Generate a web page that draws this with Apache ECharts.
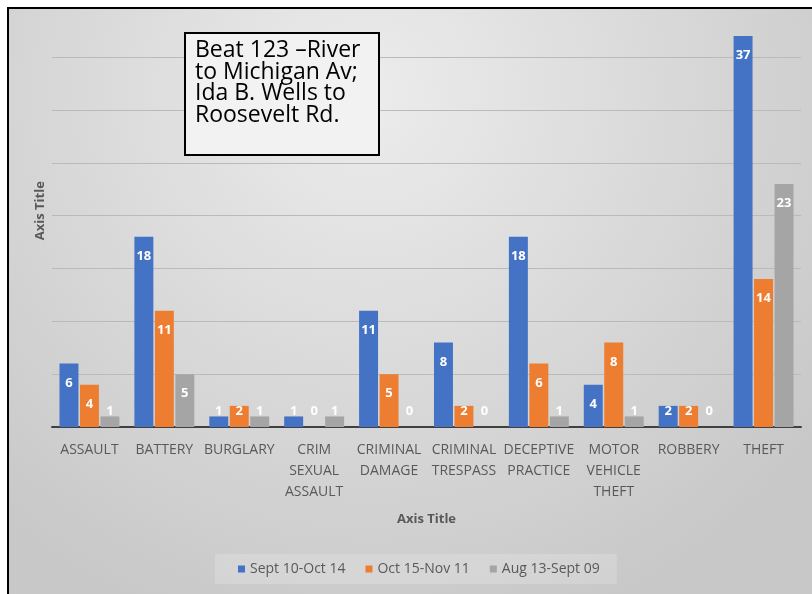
<!DOCTYPE html>
<html>
<head>
<meta charset="utf-8">
<script src="https://cdn.jsdelivr.net/npm/echarts@6/dist/echarts.min.js"></script>
<style>html,body{margin:0;padding:0;background:#fff}#c{width:812px;height:594px}</style>
</head>
<body>
<div id="c"></div>
<script>
const categories = ['ASSAULT','BATTERY','BURGLARY','CRIM\nSEXUAL\nASSAULT','CRIMINAL\nDAMAGE','CRIMINAL\nTRESPASS','DECEPTIVE\nPRACTICE','MOTOR\nVEHICLE\nTHEFT','ROBBERY','THEFT'];
const sept10Oct14 = [6, 18, 1, 1, 11, 8, 18, 4, 2, 37];
const oct15Nov11 = [4, 11, 2, 0, 5, 2, 6, 8, 2, 14];
const aug13Sept09 = [1, 5, 1, 1, 0, 0, 1, 1, 0, 23];
const seriesNames = ['Sept 10-Oct 14', 'Oct 15-Nov 11', 'Aug 13-Sept 09'];
const colors = ['#4472C4', '#ED7D31', '#A5A5A5'];
const noteLines = ['Beat 123 \u2013River', 'to Michigan Av;', 'Ida B. Wells to', 'Roosevelt Rd.'];

const FONT = "'Open Sans', 'Liberation Sans', sans-serif";
const chart = echarts.init(document.getElementById('c'));

function toData(arr) {
  return arr.map(v => v < 3.5
    ? { value: v, label: { position: 'insideBottom', distance: 9 } }
    : { value: v });
}

const series = [sept10Oct14, oct15Nov11, aug13Sept09].map((arr, i) => ({
  name: seriesNames[i],
  type: 'bar',
  barCategoryGap: '20%',
  barGap: '8%',
  itemStyle: { color: colors[i] },
  label: {
    show: true, position: 'insideTop', distance: 13,
    color: '#fff', fontWeight: 'bold', fontSize: 13, fontFamily: FONT
  },
  data: toData(arr)
}));

chart.setOption({
  backgroundColor: '#fff',
  animation: false,
  textStyle: { fontFamily: FONT },
  grid: { left: 52, right: 11, top: 4.43, bottom: 167, containLabel: false },
  xAxis: {
    type: 'category',
    data: categories,
    name: 'Axis Title',
    nameLocation: 'middle',
    nameGap: 86,
    nameTextStyle: { color: '#595959', fontWeight: 'bold', fontSize: 13, fontFamily: FONT },
    axisLine: { lineStyle: { color: '#404040', width: 2 } },
    axisTick: { show: false },
    axisLabel: { color: '#595959', fontSize: 14, lineHeight: 21, margin: 13, interval: 0, fontFamily: FONT }
  },
  yAxis: {
    type: 'value',
    min: 0, max: 40, interval: 5,
    name: 'Axis Title',
    nameLocation: 'middle',
    nameGap: 5,
    nameTextStyle: { color: '#595959', fontWeight: 'bold', fontSize: 13, fontFamily: FONT, padding: [0, 0, 0, 10] },
    axisLabel: { show: false },
    axisLine: { show: false },
    axisTick: { show: false },
    splitLine: { lineStyle: { color: '#bababa', width: 1 } }
  },
  legend: {
    data: seriesNames,
    left: 215,
    top: 554,
    padding: [8, 17, 8, 23],
    backgroundColor: 'rgba(255,255,255,0.18)',
    itemWidth: 7, itemHeight: 7, itemGap: 20,
    icon: 'rect',
    textStyle: { color: '#595959', fontSize: 14, fontFamily: FONT }
  },
  graphic: [
    {
      type: 'rect', z: -10, silent: true,
      shape: { x: 8, y: 8, width: 804, height: 586 },
      style: {
        fill: new echarts.graphic.RadialGradient(0.45, 0.15, 0.95, [
          { offset: 0, color: '#ececec' },
          { offset: 1, color: '#c8c8c8' }
        ])
      }
    },
    { type: 'rect', z: 100, silent: true, shape: { x: 0, y: 0, width: 812, height: 7 }, style: { fill: '#fff' } },
    { type: 'rect', z: 100, silent: true, shape: { x: 0, y: 0, width: 7, height: 594 }, style: { fill: '#fff' } },
    {
      type: 'polyline', z: 101, silent: true,
      shape: { points: [[8, 594], [8, 8], [812, 8]] },
      style: { stroke: '#000', lineWidth: 2, fill: null }
    },
    {
      type: 'rect', z: 50, silent: true,
      shape: { x: 185, y: 33, width: 194, height: 122 },
      style: { fill: '#f2f2f2', stroke: '#000', lineWidth: 2 }
    },
    {
      type: 'text', z: 51, silent: true,
      x: 195, y: 40,
      style: {
        text: noteLines.join('\n'),
        fontSize: 23, lineHeight: 21.5, fill: '#000',
        fontFamily: FONT
      }
    }
  ],
  series: series
});
</script>
</body>
</html>
